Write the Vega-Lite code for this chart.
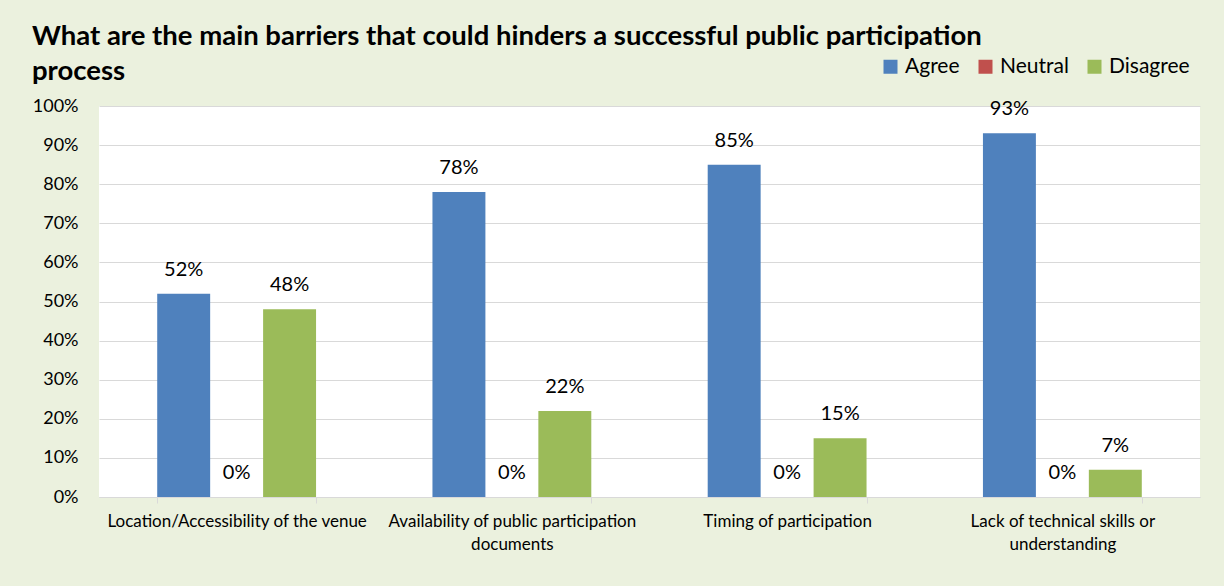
{
  "$schema": "https://vega.github.io/schema/vega-lite/v6.json",
  "width": 1101,
  "height": 391,
  "autosize": {"type": "none"},
  "padding": {"left": 99, "top": 106, "right": 24, "bottom": 89},
  "background": "#EBF1DE",
  "view": {"fill": "white", "stroke": null},
  "config": {"font": "Lato"},
  "title": {
    "text": ["What are the main barriers that could hinders a successful public participation", "process"],
    "anchor": "start",
    "frame": "group",
    "dx": -67,
    "dy": 61,
    "fontSize": 27.5,
    "fontWeight": "bold",
    "font": "Lato",
    "color": "black",
    "lineHeight": 35,
    "baseline": "alphabetic",
    "offset": 10
  },
  "data": {
    "values": [
      {"category": "Location/Accessibility of the venue", "series": "Agree", "value": 0.52},
      {"category": "Location/Accessibility of the venue", "series": "Neutral", "value": 0.0},
      {"category": "Location/Accessibility of the venue", "series": "Disagree", "value": 0.48},
      {"category": "Availability of public participation|documents", "series": "Agree", "value": 0.78},
      {"category": "Availability of public participation|documents", "series": "Neutral", "value": 0.0},
      {"category": "Availability of public participation|documents", "series": "Disagree", "value": 0.22},
      {"category": "Timing of participation", "series": "Agree", "value": 0.85},
      {"category": "Timing of participation", "series": "Neutral", "value": 0.0},
      {"category": "Timing of participation", "series": "Disagree", "value": 0.15},
      {"category": "Lack of technical skills or|understanding", "series": "Agree", "value": 0.93},
      {"category": "Lack of technical skills or|understanding", "series": "Neutral", "value": 0.0},
      {"category": "Lack of technical skills or|understanding", "series": "Disagree", "value": 0.07}
    ]
  },
  "encoding": {
    "x": {
      "field": "category",
      "type": "nominal",
      "sort": null,
      "scale": {"paddingInner": 0.4229, "paddingOuter": 0.2115},
      "axis": {
        "title": null,
        "labelExpr": "split(datum.label, '|')",
        "labelAngle": 0,
        "labelFontSize": 17,
        "labelColor": "black",
        "labelLineHeight": 23,
        "labelBaseline": "top",
        "labelLimit": 500,
        "ticks": true,
        "tickBand": "extent",
        "tickSize": 6,
        "tickColor": "#D9D9D9",
        "domain": true,
        "domainColor": "#D9D9D9",
        "labelPadding": 10
      }
    },
    "xOffset": {
      "field": "series",
      "type": "nominal",
      "sort": ["Agree", "Neutral", "Disagree"],
      "scale": {"paddingInner": 0, "paddingOuter": 0}
    },
    "y": {
      "field": "value",
      "type": "quantitative",
      "scale": {"domain": [0, 1]},
      "axis": {
        "title": null,
        "values": [0, 0.1, 0.2, 0.3, 0.4, 0.5, 0.6, 0.7, 0.8, 0.9, 1],
        "format": ".0%",
        "grid": true,
        "gridColor": "#D9D9D9",
        "domain": false,
        "ticks": false,
        "labelFontSize": 18,
        "labelColor": "black",
        "labelPadding": 21
      }
    }
  },
  "layer": [
    {
      "mark": {"type": "bar"},
      "encoding": {
        "color": {
          "field": "series",
          "type": "nominal",
          "sort": ["Agree", "Neutral", "Disagree"],
          "scale": {"domain": ["Agree", "Neutral", "Disagree"], "range": ["#4F81BD", "#C0504D", "#9BBB59"]},
          "legend": {
            "orient": "none",
            "legendX": 781,
            "legendY": -50,
            "direction": "horizontal",
            "title": null,
            "symbolType": "square",
            "symbolSize": 196,
            "symbolStrokeWidth": 0,
            "symbolOpacity": 1,
            "labelFontSize": 21,
            "labelFont": "Lato",
            "labelColor": "black",
            "columnPadding": 15,
            "labelOffset": 4,
            "padding": 0
          }
        }
      }
    },
    {
      "mark": {"type": "text", "baseline": "alphabetic", "dy": -18, "fontSize": 20, "color": "black"},
      "encoding": {
        "text": {"field": "value", "type": "quantitative", "format": ".0%"}
      }
    }
  ]
}
